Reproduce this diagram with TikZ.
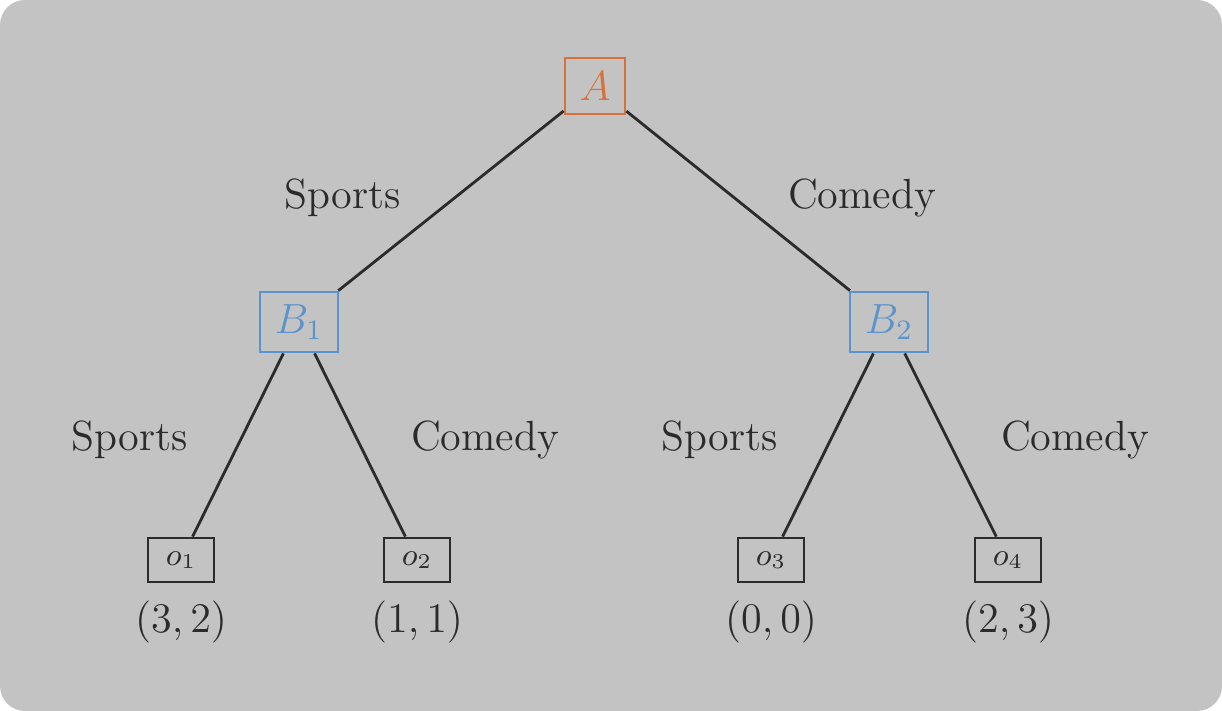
\documentclass[tikz,border=0pt]{standalone}
\usetikzlibrary{positioning}
\definecolor{bgray}{HTML}{C3C3C3}
\definecolor{aorange}{HTML}{D9703A}
\definecolor{bblue}{HTML}{5B93CC}
\definecolor{ink}{HTML}{2B2B2B}
\tikzset{
  player/.style={draw, thick, inner sep=0pt, font=\fontsize{12}{14}\selectfont},
  outcome/.style={draw=ink, thick, minimum width=0.66cm, minimum height=0.44cm, inner sep=0pt, font=\small, text=ink},
  lbl/.style={text=ink, font=\fontsize{12}{14}\selectfont},
  edge/.style={draw=ink, thick}
}
\begin{document}
\begin{tikzpicture}
\fill[bgray, rounded corners=0.25cm] (0,0) rectangle (12.22,-7.11);
\useasboundingbox (0,0) rectangle (12.22,-7.11);
% players
\node[player, draw=aorange, text=aorange, minimum width=0.6cm, minimum height=0.56cm] (A) at (5.95,-0.86) {$A$};
\node[player, draw=bblue, text=bblue, minimum width=0.78cm, minimum height=0.6cm] (B1) at (2.99,-3.22) {$B_1$};
\node[player, draw=bblue, text=bblue, minimum width=0.78cm, minimum height=0.6cm] (B2) at (8.89,-3.22) {$B_2$};
% outcomes
\node[outcome] (o1) at (1.81,-5.60) {$o_1$};
\node[outcome] (o2) at (4.17,-5.60) {$o_2$};
\node[outcome] (o3) at (7.71,-5.60) {$o_3$};
\node[outcome] (o4) at (10.08,-5.60) {$o_4$};
\foreach \o/\p in {o1/{(3,2)}, o2/{(1,1)}, o3/{(0,0)}, o4/{(2,3)}}
  \node[lbl, below=0.05cm of \o] (p\o) {$\p$};
% edges
\draw[edge] (A) -- (B1);
\draw[edge] (A) -- (B2);
\draw[edge] (B1) -- (o1);
\draw[edge] (B1) -- (o2);
\draw[edge] (B2) -- (o3);
\draw[edge] (B2) -- (o4);
% actions
\node[lbl] (sA) at (3.43,-1.98) {Sports};
\node[lbl] (cA) at (8.62,-1.98) {Comedy};
\node[lbl] (s1) at (1.30,-4.40) {Sports};
\node[lbl] (c1) at (4.85,-4.40) {Comedy};
\node[lbl] (s2) at (7.20,-4.40) {Sports};
\node[lbl] (c2) at (10.75,-4.40) {Comedy};
\end{tikzpicture}
\end{document}
